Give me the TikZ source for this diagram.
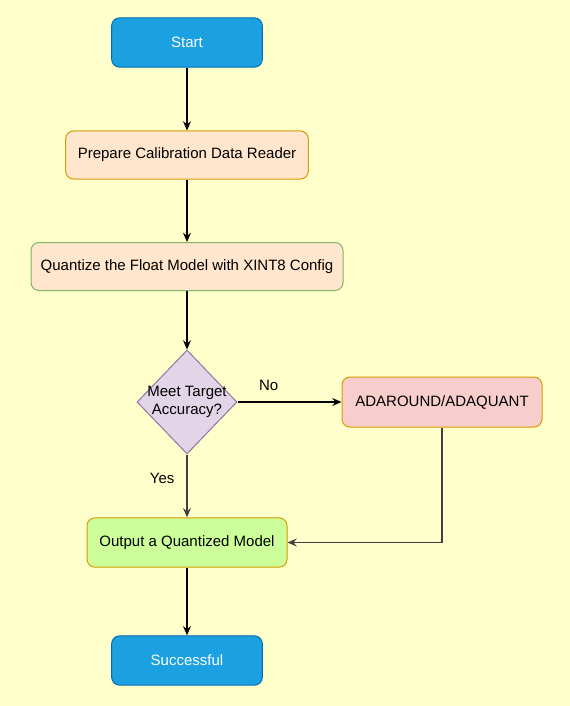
\documentclass[tikz,border=0pt]{standalone}
\usepackage{fontspec}
\setmainfont{Liberation Sans}
\usetikzlibrary{shapes.geometric,arrows.meta}
\definecolor{pagebg}{HTML}{FFFFCC}
\definecolor{termfill}{HTML}{1BA1E2}
\definecolor{termline}{HTML}{006EAF}
\definecolor{stepfill}{HTML}{FFE6CC}
\definecolor{orangeline}{HTML}{D79B00}
\definecolor{greenline}{HTML}{82B366}
\definecolor{decfill}{HTML}{E1D5E7}
\definecolor{decline}{HTML}{9673A6}
\definecolor{adafill}{HTML}{F8CECC}
\definecolor{outfill}{HTML}{CCFF99}
\definecolor{greyarrow}{HTML}{404040}
\tikzset{%
  term/.style={draw=termline,fill=termfill,rounded corners=6pt,text=white,
    minimum width=113pt,minimum height=37pt},
  stepbox/.style={draw=orangeline,fill=stepfill,rounded corners=6pt,
    minimum height=36pt},
  decision/.style={draw=decline,fill=decfill,shape=diamond,inner sep=0pt,
    minimum width=75pt,minimum height=78pt},
  lbl/.style={inner sep=0pt},
  arr/.style={draw=black,line width=0.9pt,-{Stealth[length=7pt,width=6pt,inset=2.5pt]}},
  arrg/.style={arr,draw=greyarrow,line width=1pt}
}
\begin{document}
\begin{tikzpicture}[x=0.75pt,y=-0.75pt,font=\fontsize{11.25pt}{13.5pt}\selectfont,line width=0.75pt]
    \fill[pagebg] (0,0) rectangle (570,706);
    \useasboundingbox (0,0) rectangle (570,706);
    \path
      (187,42.5) node[term] (start) {Start}
      (187,155) node[stepbox,minimum width=182pt] (prep) {Prepare Calibration Data Reader}
      (187,266.5) node[stepbox,draw=greenline,minimum width=234pt] (quant) {Quantize the Float Model with XINT8 Config}
      (187,402) node[decision,label={[align=center,font=\fontsize{11.25pt}{14pt}\selectfont]center:Meet Target\\Accuracy?}] (dec) {}
      (442,402) node[stepbox,fill=adafill,minimum width=150pt,minimum height=37.5pt] (ada) {ADAROUND/ADAQUANT}
      (187,542.5) node[stepbox,fill=outfill,minimum width=150pt,minimum height=37pt] (out) {Output a Quantized Model}
      (187,660.5) node[term] (succ) {Successful};
    \draw[arr] (start) -- (prep);
    \draw[arr] (prep) -- (quant);
    \draw[arr] (quant) -- (dec);
    \draw[arr] (dec) -- node[lbl,pos=0.3,above=8pt] {No} (ada);
    \draw[arrg] (dec) -- node[lbl,pos=0.38,left=9pt] {Yes} (out);
    \draw[arrg] (ada) |- (out);
    \draw[arr] (out) -- (succ);
\end{tikzpicture}
\end{document}
